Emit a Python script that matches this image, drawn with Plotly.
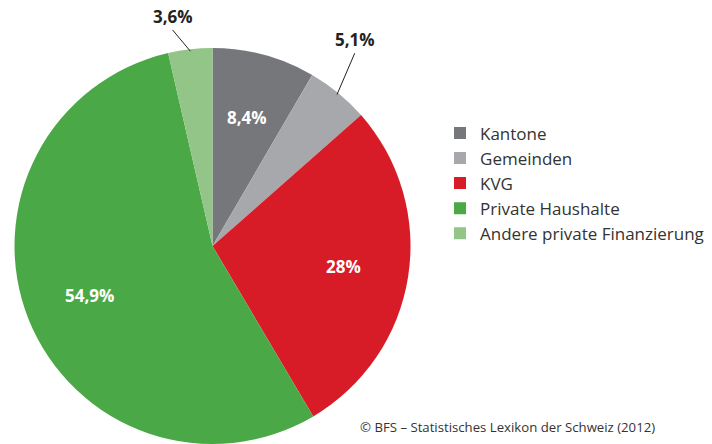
import math

import plotly.graph_objects as go

labels = ["Kantone", "Gemeinden", "KVG", "Private Haushalte", "Andere private Finanzierung"]
shares = [8.4, 5.1, 28.0, 54.9, 3.6]
share_text = ["8,4%", "5,1%", "28%", "54,9%", "3,6%"]
colors = ["#76777b", "#a7a8ab", "#d71c27", "#4aa946", "#92c587"]

# slices labelled outside with a leader line: (length factor, angle tweak in degrees)
outside = {1: (1.21, -3.0), 4: (1.11, -4.0)}

W, H = 712, 444
cx, R = 212.5, 200
dom_x = [(cx - R) / W, (cx + R) / W]
dom_y = [0, 396 / H]
r_px = min((dom_x[1] - dom_x[0]) * W, (dom_y[1] - dom_y[0]) * H) / 2
cy_top = H - (dom_y[0] + dom_y[1]) / 2 * H

fig = go.Figure(
    go.Pie(
        labels=labels,
        values=shares,
        sort=False,
        direction="clockwise",
        rotation=0,
        marker=dict(colors=colors, line=dict(width=0)),
        textinfo="none",
        hoverinfo="label+percent",
        domain=dict(x=dom_x, y=dom_y),
    )
)


def to_paper(r, ang):
    a = math.radians(ang)
    px = cx + r * math.sin(a)
    py = cy_top - r * math.cos(a)
    return px / W, 1 - py / H


total = sum(shares)
start = 0.0
for i, v in enumerate(shares):
    mid = (start + v / 2) / total * 360
    start += v
    if i in outside:
        k, tweak = outside[i]
        x0, y0 = to_paper(r_px * 0.99, mid)
        x1, y1 = to_paper(r_px * k, mid + tweak)
        fig.add_shape(type="line", xref="paper", yref="paper", x0=x0, y0=y0, x1=x1, y1=y1,
                      line=dict(color="#222", width=1))
        fig.add_annotation(x=x1, y=y1, xref="paper", yref="paper", text=share_text[i],
                           showarrow=False, xanchor="center", yanchor="bottom",
                           font=dict(family="Open Sans", size=17, color="#222", weight="bold"))
    else:
        x, y = to_paper(r_px * 0.67, mid)
        fig.add_annotation(x=x, y=y, xref="paper", yref="paper", text=share_text[i],
                           showarrow=False, xanchor="center", yanchor="middle",
                           font=dict(family="Open Sans", size=17, color="white", weight="bold"))

fig.add_annotation(x=657 / W, y=1 - 427 / H, xref="paper", yref="paper", xanchor="right", yanchor="middle",
                   text="© BFS – Statistisches Lexikon der Schweiz (2012)", showarrow=False,
                   font=dict(family="Open Sans", size=13.2, color="#333"))

fig.update_layout(
    width=W,
    height=H,
    margin=dict(l=0, r=0, t=0, b=0),
    paper_bgcolor="white",
    plot_bgcolor="white",
    showlegend=True,
    legend=dict(x=0.618, y=0.587, xanchor="left", yanchor="middle",
                font=dict(family="Open Sans", size=17, color="#333"),
                itemwidth=30, tracegroupgap=0, bgcolor="rgba(0,0,0,0)"),
    font=dict(family="Open Sans"),
)

fig.write_html("out.html", config={"displayModeBar": False},
               post_script="document.body.style.margin='0';document.body.style.overflow='hidden';")
